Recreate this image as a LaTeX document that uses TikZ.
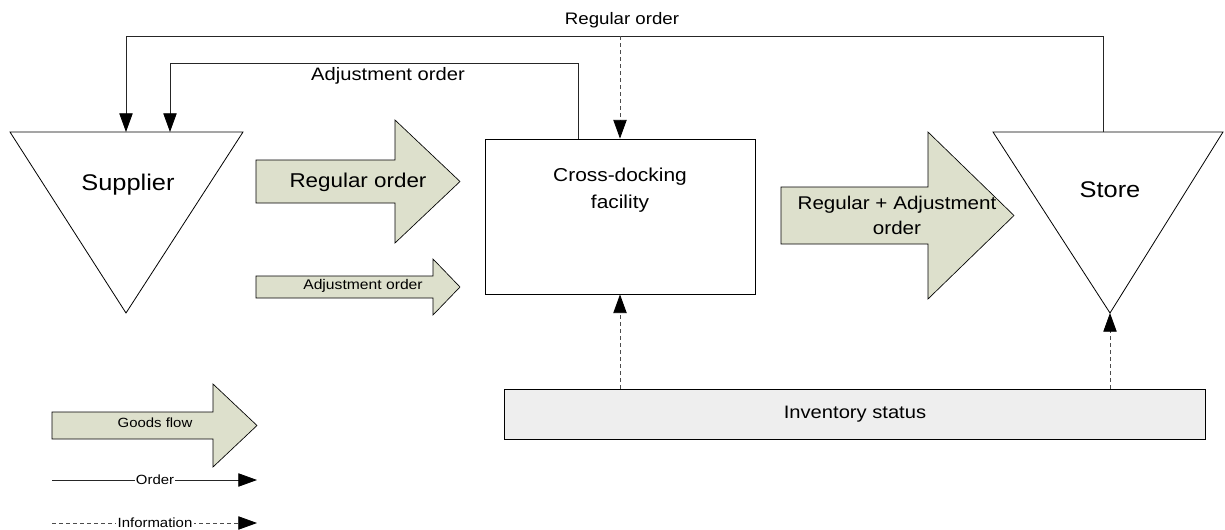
\documentclass[tikz,border=0pt]{standalone}
\usepackage{fontspec}
\setmainfont[FakeStretch=1.12]{Liberation Sans}
\usetikzlibrary{arrows.meta}
\definecolor{goodsgreen}{RGB}{221,224,204}
\definecolor{invgray}{RGB}{238,238,238}

\begin{document}
\begin{tikzpicture}[x=0.75pt,y=-0.75pt]
  \tikzstyle{goods}=[draw=black,fill=goodsgreen,line width=0.5pt]
  \tikzstyle{order}=[draw=black!85,line width=0.6pt,-{Triangle[length=14pt,width=10pt,black]}]
  \tikzstyle{info}=[order,draw=black!70,dash pattern=on 3pt off 2.25pt]
  \tikzstyle{legtext}=[fill=white,inner sep=1pt,font=\fontsize{10}{12}\selectfont]
  \useasboundingbox (0,0) rectangle (1225,529);

  % supplier and store
  \draw[line width=0.6pt] (10,132) -- (243,132) -- (126,313) -- cycle;
  \draw[line width=0.6pt] (993,132) -- (1223,132) -- (1110,313) -- cycle;
  \node[font=\fontsize{17}{20}\selectfont] (sup) at (128,185) {Supplier};
  \node[font=\fontsize{17}{20}\selectfont] (sto) at (1110,190) {Store};
  \coordinate (supIn1) at (126,132);
  \coordinate (supIn2) at (170,132);
  \coordinate (stoOut) at (1103,132);
  \coordinate (stoApex) at (1110,313);

  % cross-docking facility and inventory status
  \node[draw,line width=0.6pt,minimum width=202.5pt,minimum height=116.25pt] (cdf) at (620,216.5) {};
  \node[align=center,font=\fontsize{14}{20}\selectfont] (cdftext) at (620,190) {Cross-docking\\facility};
  \node[draw,line width=0.6pt,fill=invgray,minimum width=525.75pt,minimum height=37.5pt] (inv) at (854.5,414) {};
  \node[font=\fontsize{13.5}{16}\selectfont] (invtext) at (855,414) {Inventory status};
  \coordinate (adjOut) at (578,139);

  % goods flows
  \draw[goods] (256,160) -- (395,160) -- (395,120) -- (460,181.5) -- (395,243) -- (395,203) -- (256,203) -- cycle;
  \node[font=\fontsize{15}{18}\selectfont] (regarrow) at (358,182) {Regular order};
  \draw[goods] (256,276) -- (433,276) -- (433,259) -- (460,287) -- (433,315) -- (433,298) -- (256,298) -- cycle;
  \node[font=\fontsize{10.5}{12}\selectfont] (adjarrow) at (363,286) {Adjustment order};
  \draw[goods] (781,187) -- (928,187) -- (928,132) -- (1014,215.5) -- (928,299) -- (928,244) -- (781,244) -- cycle;
  \node[align=center,font=\fontsize{13.8}{18.75}\selectfont] (bothtext) at (897,215) {Regular + Adjustment\\order};

  % orders
  \coordinate (outerY) at (0,36);
  \coordinate (innerY) at (0,63);
  \draw[order] (stoOut) -- (stoOut |- outerY) -| (supIn1);
  \draw[order] (adjOut) -- (adjOut |- innerY) -| (supIn2);
  \node[font=\fontsize{12.5}{16}\selectfont] (regtop) at (622,20) {Regular order};
  \node[font=\fontsize{13.5}{16}\selectfont] (adjtop) at (388,76) {Adjustment order};

  % information
  \draw[info] (cdf.north |- outerY) -- (cdf.north);
  \draw[info] (inv.north -| cdf.south) -- (cdf.south);
  \draw[info] (inv.north -| stoApex) -- (stoApex);

  % legend
  \draw[goods] (52,412) -- (213,412) -- (213,384) -- (257,425.5) -- (213,467) -- (213,439) -- (52,439) -- cycle;
  \node[font=\fontsize{10}{12}\selectfont] (goodstext) at (155,423) {Goods flow};
  \coordinate (ordA) at (52,480);
  \coordinate (ordB) at (257,480);
  \coordinate (infA) at (52,523);
  \coordinate (infB) at (257,523);
  \draw[order] (ordA) -- (ordB);
  \draw[info] (infA) -- (infB);
  \node[legtext] (ordtext) at (155,480) {Order};
  \node[legtext] (inftext) at (155,523) {Information};
\end{tikzpicture}
\end{document}
